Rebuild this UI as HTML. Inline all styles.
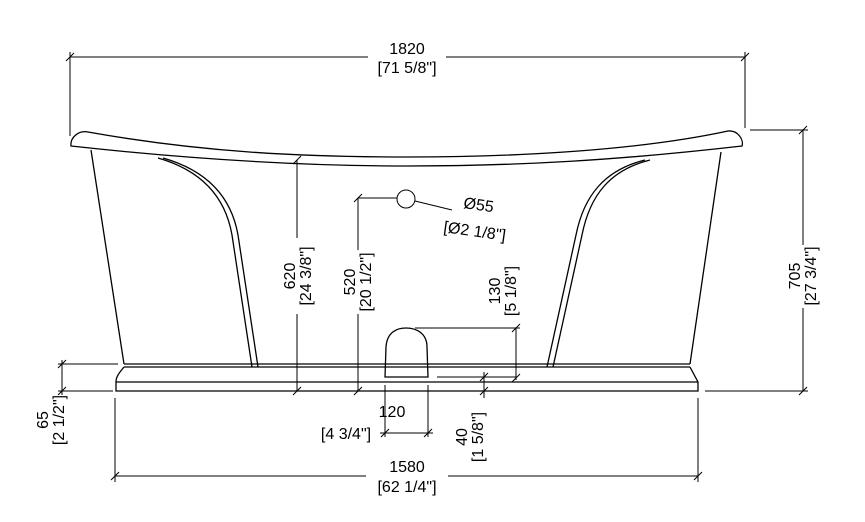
<!DOCTYPE html>
<html><head><style>
html,body{margin:0;padding:0;background:#fff;}
svg{display:block;}
text{font-family:"Liberation Sans",sans-serif;font-size:16px;fill:#000;}
</style></head><body>
<svg width="865" height="522" viewBox="0 0 865 522" xmlns="http://www.w3.org/2000/svg">
<g fill="none" stroke="#000" stroke-width="1.3">
<path d="M71,146 C70,138 78,130 88,132 C200,152 300,157 407,157 C520,157 640,150 728,131 C738,130 744,140 742,146 C620,160 520,166 407,166 C290,166 180,158 71,146 Z"/>
<path d="M91,150 L124,364"/>
<path d="M721,152 L690,364"/>
<path d="M158,158 C200,170 225,195 232,235 L252,367"/>
<path d="M163,158 C205,170 231,195 238,235 L258,367"/>
<path d="M650,160 C610,170 590,195 582,235 L553,367"/>
<path d="M645,160 C605,170 584,195 576,235 L547,367"/>
<path d="M124,364 L690,364"/>
<path d="M124,367 L690,367"/>
<path d="M124,367 C120,372 116,376 116,382 L116,391 L698,391 L698,382 L690,367"/>
<path d="M116,382 L698,382"/>
<path d="M385,377 L386,347 C387,332 397,328 406,328 C416,328 427,333 427,347 L428,377 Z"/>
</g>
<g fill="none" stroke="#000" stroke-width="1">
<path d="M70,52 L70,136 M745,52 L745,128 M70,57 L368,57 M446,57 L745,57"/>
<path d="M66,61 L74,53 M741,61 L749,53"/>
<path d="M750,130 L808,130 M705,391 L808,391 M803,130 L803,245 M803,308 L803,391"/>
<path d="M799,134 L807,126 M799,395 L807,387"/>
<path d="M297,160 L297,238 M297,314 L297,391 M293,164 L301,156 M293,395 L301,387"/>
<path d="M358,198 L358,250 M358,314 L358,391 M358,198 L397,198 M354,202 L362,194 M354,395 L362,387"/>
<circle cx="406" cy="199" r="9"/>
<path d="M415,201 L452,210"/>
<path d="M415,328 L520,328 M516,328 L516,380 M512,332 L520,324 M512,382 L520,374"/>
<path d="M437,377 L516,377 M484,372 L484,398 M480,381 L488,373 M480,395 L488,387"/>
<path d="M385,385 L385,437 M428,385 L428,437 M380,433 L433,433 M381,437 L389,429 M424,437 L432,429"/>
<path d="M58,364 L118,364 M58,391 L113,391 M62,360 L62,395 M58,368 L66,360 M58,395 L66,387"/>
<path d="M115,398 L115,482 M698,398 L698,482 M115,476 L366,476 M448,476 L698,476 M111,480 L119,472 M694,480 L702,472"/>
</g>
<text x="407" y="54" text-anchor="middle">1820</text>
<text x="407" y="73" text-anchor="middle">[71 5/8"]</text>
<text x="407" y="472" text-anchor="middle">1580</text>
<text x="407" y="492" text-anchor="middle">[62 1/4"]</text>
<text x="392" y="417" text-anchor="middle">120</text>
<text x="346" y="439" text-anchor="middle">[4 3/4"]</text>
<g transform="translate(463,208) rotate(8)"><text x="0" y="0">Ø55</text></g>
<g transform="translate(443,232) rotate(8)"><text x="0" y="0">[Ø2 1/8"]</text></g>
<g transform="translate(295,276) rotate(-90)"><text text-anchor="middle" x="0" y="0">620</text><text text-anchor="middle" x="0" y="16">[24 3/8"]</text></g>
<g transform="translate(355,282) rotate(-90)"><text text-anchor="middle" x="0" y="0">520</text><text text-anchor="middle" x="0" y="16">[20 1/2"]</text></g>
<g transform="translate(500,291) rotate(-90)"><text text-anchor="middle" x="0" y="0">130</text><text text-anchor="middle" x="0" y="16">[5 1/8"]</text></g>
<g transform="translate(800,276) rotate(-90)"><text text-anchor="middle" x="0" y="0">705</text><text text-anchor="middle" x="0" y="16">[27 3/4"]</text></g>
<g transform="translate(48,420) rotate(-90)"><text text-anchor="middle" x="0" y="0">65</text><text text-anchor="middle" x="0" y="16">[2 1/2"]</text></g>
<g transform="translate(467,437) rotate(-90)"><text text-anchor="middle" x="0" y="0">40</text><text text-anchor="middle" x="0" y="16">[1 5/8"]</text></g>
</svg>
</body></html>
